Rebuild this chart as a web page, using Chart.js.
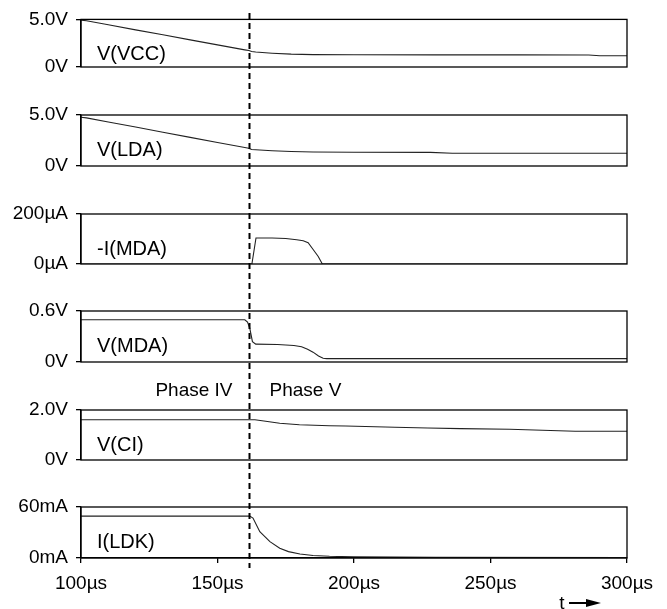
<!DOCTYPE html>
<html>
<head>
<meta charset="utf-8">
<script src="https://cdn.jsdelivr.net/npm/chart.js@4.4.1/dist/chart.umd.min.js"></script>
<style>
  html, body { margin: 0; padding: 0; background: #fff; }
  #wrap { position: relative; width: 667px; height: 609px; }
  #wrap canvas { position: absolute; left: 0; top: 0; }
</style>
</head>
<body>
<div id="wrap"></div>
<script>
// time axis (µs)
const xTicks = [100, 150, 200, 250, 300];
const xTickLabels = ['100µs', '150µs', '200µs', '250µs', '300µs'];
const phaseSwitch = 161.7; // Phase IV -> Phase V

// V(VCC) in V
const vccT = [100, 102, 110, 120, 130, 140, 150, 160, 161.5, 162.5, 164, 170, 177, 185, 200, 230, 260, 286, 290, 300];
const vccV = [4.92, 4.85, 4.43, 3.9, 3.38, 2.85, 2.32, 1.8, 1.73, 1.63, 1.57, 1.45, 1.35, 1.3, 1.28, 1.27, 1.27, 1.26, 1.18, 1.18];

// V(LDA) in V
const ldaT = [100, 102, 110, 120, 130, 140, 150, 160, 161.4, 162.5, 164, 170, 177, 185, 200, 228, 236, 300];
const ldaV = [4.78, 4.72, 4.32, 3.82, 3.31, 2.81, 2.31, 1.81, 1.74, 1.62, 1.59, 1.5, 1.42, 1.37, 1.35, 1.34, 1.25, 1.25];

// -I(MDA) in µA
const imdaT = [100, 162.6, 164.1, 170, 175, 179, 181.4, 183.2, 185.1, 186.9, 188.4, 300];
const imdaV = [0, 0, 104, 104, 102, 97, 93, 85, 57, 30, 0, 0];

// V(MDA) in V
const vmdaT = [100, 160, 161, 161.8, 162.8, 164, 172, 178, 180.8, 183, 185, 187, 188.7, 190, 300];
const vmdaV = [0.497, 0.497, 0.47, 0.4, 0.24, 0.21, 0.205, 0.195, 0.18, 0.15, 0.116, 0.07, 0.044, 0.04, 0.04];

// V(CI) in V
const vciT = [100, 163.7, 167, 172.8, 180, 191, 197, 215, 227, 239, 257, 281, 300];
const vciV = [1.61, 1.61, 1.56, 1.47, 1.41, 1.37, 1.36, 1.31, 1.28, 1.255, 1.23, 1.15, 1.15];

// I(LDK) in mA
const ldkT = [100, 161.8, 163, 165.5, 169.2, 172.8, 176, 180.2, 185, 191, 200, 230, 300];
const ldkV = [49.3, 49.3, 47, 31, 19.3, 11.5, 7.5, 4.7, 3, 2, 1.3, 0.8, 0.5];

const panelNames = ['V(VCC)', 'V(LDA)', '-I(MDA)', 'V(MDA)', 'V(CI)', 'I(LDK)'];
const panelMax = [5, 5, 200, 0.6, 2, 60];
const panelTickLabels = [['0V', '5.0V'], ['0V', '5.0V'], ['0µA', '200µA'], ['0V', '0.6V'], ['0V', '2.0V'], ['0mA', '60mA']];
const seriesT = [vccT, ldaT, imdaT, vmdaT, vciT, ldkT];
const seriesV = [vccV, ldaV, imdaV, vmdaV, vciV, ldkV];

// layout (px)
const W = 667, H = 609;
const panelTop = [16, 115, 214, 311, 410, 507];
const panelH = [51, 51, 50, 51, 50, 51];
const FONT = "'Liberation Sans', Arial, Helvetica, sans-serif";

Chart.defaults.font.family = FONT;
Chart.defaults.font.size = 19;
Chart.defaults.color = '#000';

const wrap = document.getElementById('wrap');

// frame round each panel + its name
const panelPlugin = {
    id: 'panel',
    afterDraw(chart) {
        const a = chart.chartArea;
        const ctx = chart.ctx;
        ctx.save();
        ctx.strokeStyle = '#000';
        ctx.lineWidth = 1.3;
        ctx.strokeRect(a.left, a.top, a.right - a.left, a.bottom - a.top);
        ctx.font = '20px ' + FONT;
        ctx.fillStyle = '#000';
        ctx.textBaseline = 'alphabetic';
        ctx.fillText(chart.options.plugins.panel.name, 97, a.top + 41);
        ctx.restore();
    }
};

// dashed phase line, phase captions and the time arrow (last panel only)
const phasePlugin = {
    id: 'phase',
    afterDraw(chart) {
        const ctx = chart.ctx;
        const x = Math.round(chart.scales.x.getPixelForValue(phaseSwitch)) + 0.5;
        ctx.save();
        ctx.strokeStyle = '#000';
        ctx.lineWidth = 2;
        ctx.setLineDash([6, 4]);
        ctx.beginPath();
        ctx.moveTo(x, 13);
        ctx.lineTo(x, 568);
        ctx.stroke();
        ctx.setLineDash([]);

        ctx.font = '19px ' + FONT;
        ctx.fillStyle = '#000';
        ctx.textBaseline = 'alphabetic';
        ctx.textAlign = 'right';
        ctx.fillText('Phase IV', x - 17, 396);
        ctx.textAlign = 'left';
        ctx.fillText('Phase V', x + 20, 396);

        ctx.textAlign = 'center';
        ctx.fillText('t', 562, 609);
        ctx.lineWidth = 2;
        ctx.beginPath();
        ctx.moveTo(569, 603);
        ctx.lineTo(588, 603);
        ctx.stroke();
        ctx.beginPath();
        ctx.moveTo(586, 599);
        ctx.lineTo(601, 603);
        ctx.lineTo(586, 607);
        ctx.closePath();
        ctx.fill();
        ctx.restore();
    }
};

function makePanel(i) {
    const last = i === panelNames.length - 1;
    const canvas = document.createElement('canvas');
    canvas.width = W;
    canvas.height = H;
    wrap.appendChild(canvas);

    const xLabelH = H - (panelTop[i] + panelH[i]);

    new Chart(canvas, {
        type: 'line',
        data: {
            datasets: [{
                data: seriesT[i].map((t, k) => ({ x: t, y: seriesV[i][k] })),
                borderColor: '#222',
                borderWidth: 1.1,
                pointRadius: 0,
                tension: 0,
                fill: false,
            }],
        },
        options: {
            responsive: false,
            animation: false,
            events: [],
            layout: {
                padding: {
                    left: 0,
                    right: 40,
                    top: panelTop[i],
                    bottom: last ? 0 : H - panelTop[i] - panelH[i],
                },
            },
            plugins: {
                legend: { display: false },
                tooltip: { enabled: false },
                panel: { name: panelNames[i] },
            },
            scales: {
                x: {
                    type: 'linear',
                    min: 100,
                    max: 300,
                    display: last,
                    afterBuildTicks: (s) => { s.ticks = xTicks.map(v => ({ value: v })); },
                    afterFit: (s) => { if (last) s.height = xLabelH; },
                    ticks: {
                        autoSkip: false,
                        maxRotation: 0,
                        padding: 9,
                        callback: (v) => xTickLabels[xTicks.indexOf(v)],
                    },
                    grid: { drawOnChartArea: false, tickLength: 5, color: '#000', lineWidth: 1.3 },
                    border: { display: true, color: '#000', width: 1.3 },
                },
                y: {
                    min: 0,
                    max: panelMax[i],
                    afterBuildTicks: (s) => { s.ticks = [{ value: 0 }, { value: panelMax[i] }]; },
                    afterFit: (s) => { s.width = 81; },
                    ticks: {
                        padding: 8,
                        callback: (v, idx) => panelTickLabels[i][idx],
                    },
                    grid: { drawOnChartArea: false, tickLength: 5, color: '#000', lineWidth: 1.3 },
                    border: { display: true, color: '#000', width: 1.3 },
                },
            },
        },
        plugins: last ? [panelPlugin, phasePlugin] : [panelPlugin],
    });
}

for (let i = 0; i < panelNames.length; i++) {
    makePanel(i);
}
</script>
</body>
</html>
